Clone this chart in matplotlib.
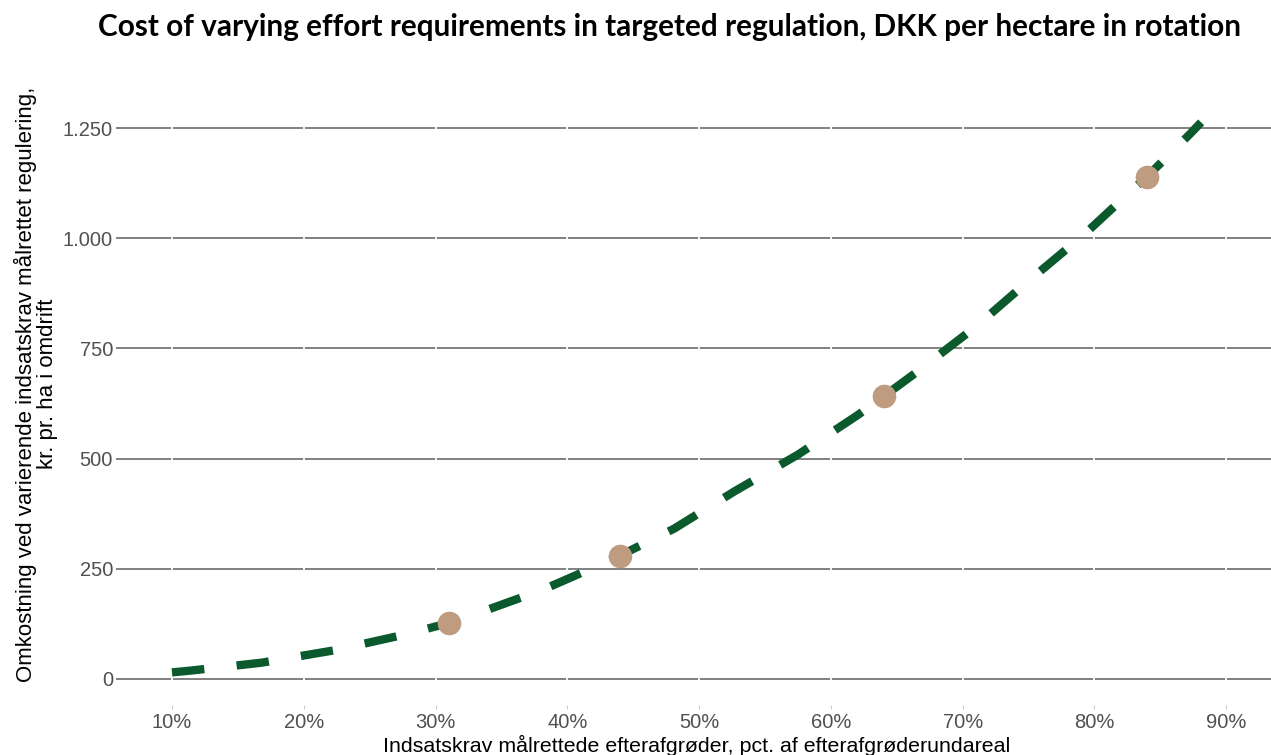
import matplotlib
matplotlib.use("Agg")
import matplotlib.pyplot as plt
from matplotlib.ticker import FuncFormatter

# Data
curve_x = [10, 11.4, 16.8, 22.3, 27.7, 31, 33, 38.1, 43, 44, 48.1, 52.7, 57.5, 62,
           64, 66.5, 70.9, 75, 79.2, 83.1, 84, 87.2, 88.1]
curve_y = [15, 19, 37, 65, 101, 127, 147, 202, 266, 280, 341, 426, 509, 598,
           641, 696, 797, 903, 1008, 1116, 1140, 1235, 1263]
point_x = [31, 44, 64, 84]
point_y = [127, 280, 641, 1140]
xticks = [10, 20, 30, 40, 50, 60, 70, 80, 90]
yticks = [0, 250, 500, 750, 1000, 1250]

title = "Cost of varying effort requirements in targeted regulation, DKK per hectare in rotation"
xlabel = "Indsatskrav målrettede efterafgrøder, pct. af efterafgrøderundareal"
ylabel = "Omkostning ved varierende indsatskrav målrettet regulering,\nkr. pr. ha i omdrift"

W, H = 1271, 755
fig = plt.figure(figsize=(W / 100, H / 100), dpi=100)
plt.rcParams['font.family'] = ['Liberation Sans', 'DejaVu Sans']

left, right, bottom, top = 124, 1271, 705, 95
ax = fig.add_axes([left / W, 1 - bottom / H, (right - left) / W, (bottom - top) / H])
ax.set_xlim(6.36, 93.4)
ax.set_ylim(-59, 1325)

for s in ax.spines.values():
    s.set_visible(False)

# horizontal gridlines
for yv in yticks:
    ax.axhline(yv, color='#808080', lw=1.4, zorder=1)
# white vertical gridlines
for xv in xticks:
    ax.axvline(xv, color='white', lw=1.3, zorder=1.5)

ax.plot(curve_x, curve_y, color='#0B5A2E', lw=6, dashes=(3.9, 3.9), zorder=2,
        dash_capstyle='butt', dash_joinstyle='round')
ax.plot(point_x, point_y, 'o', color='#BF9B80', markersize=17, markeredgewidth=0, zorder=3)

ax.set_xticks(xticks)
ax.set_yticks(yticks)
ax.xaxis.set_major_formatter(FuncFormatter(lambda v, p: f"{v:.0f}%"))
ax.yaxis.set_major_formatter(FuncFormatter(lambda v, p: f"{v:,.0f}".replace(",", ".")))
ax.tick_params(axis='x', length=3, color='#cccccc', labelsize=14.5, labelcolor='#505050', pad=3)
ax.tick_params(axis='y', length=6, color='#808080', width=1.4, labelsize=14.5, labelcolor='#505050', pad=2)

fig.text(697 / W, 1 - 752 / H, xlabel, ha='center', va='baseline', fontsize=15.4, color='black')
fig.text(36 / W, 1 - 384 / H, ylabel, ha='center', va='center', rotation=90, fontsize=16,
         color='black', linespacing=1.05)
fig.text(669 / W, 1 - 27 / H, title, ha='center', va='center', fontsize=21.4,
         fontweight='bold', family=['Lato', 'DejaVu Sans'])

fig.savefig("out.png", dpi=100)
